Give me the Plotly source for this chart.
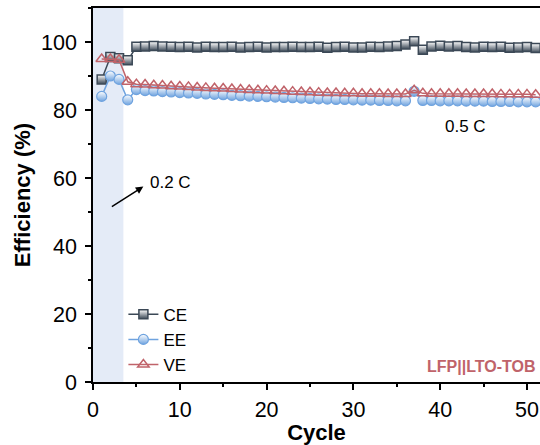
import plotly.graph_objects as go

cycles = list(range(1, 52))
CE = [89.0, 95.6, 95.2, 94.6, 98.6, 98.7, 98.8, 98.7, 98.6, 98.5, 98.6, 98.4, 98.6, 98.5,
      98.5, 98.6, 98.4, 98.5, 98.6, 98.4, 98.5, 98.5, 98.6, 98.5, 98.5, 98.6, 98.3, 98.5,
      98.6, 98.4, 98.4, 98.6, 98.5, 98.7, 98.8, 99.3, 100.2, 97.7, 98.7, 98.9, 98.7, 98.8,
      98.5, 98.4, 98.6, 98.5, 98.6, 98.3, 98.4, 98.5, 98.2]
EE = [84.0, 90.0, 89.0, 83.0, 86.0, 85.7, 85.6, 85.4, 85.3, 85.1, 85.0, 84.9, 84.7, 84.6,
      84.5, 84.3, 84.2, 84.1, 84.0, 83.9, 83.8, 83.7, 83.6, 83.5, 83.4, 83.3, 83.2, 83.1,
      83.1, 83.0, 82.9, 82.9, 82.8, 82.8, 82.7, 82.7, 85.5, 82.8, 82.8, 82.7, 82.7, 82.7,
      82.6, 82.6, 82.6, 82.5, 82.5, 82.5, 82.4, 82.4, 82.4]
VE = [95.0, 95.0, 94.8, 88.3, 87.6, 87.5, 87.3, 87.2, 87.0, 86.9, 86.8, 86.6, 86.5, 86.4,
      86.3, 86.2, 86.0, 85.9, 85.8, 85.7, 85.6, 85.5, 85.4, 85.3, 85.2, 85.1, 85.0, 85.0,
      84.9, 84.9, 84.8, 84.8, 84.8, 84.7, 84.7, 84.7, 85.8, 84.9, 84.8, 84.8, 84.8, 84.8,
      84.7, 84.7, 84.7, 84.7, 84.6, 84.6, 84.6, 84.6, 84.5]

C_CE = "#3b4856"
C_EE = "#6fa3df"
C_VE = "#c0636a"
FONT = "Liberation Sans, Arial, sans-serif"

fig = go.Figure()
fig.add_shape(type="rect", xref="x", yref="paper", x0=0, x1=3.5, y0=0, y1=1,
              fillcolor="#e4ebf7", line_width=0, layer="below")

fig.add_trace(go.Scatter(x=cycles, y=CE, name="CE", mode="lines+markers",
                         line=dict(color=C_CE, width=1.5),
                         marker=dict(symbol="square", size=9, color="white",
                                     gradient=dict(type="vertical", color=C_CE),
                                     line=dict(color=C_CE, width=1.5))))
fig.add_trace(go.Scatter(x=cycles, y=EE, name="EE", mode="lines+markers",
                         line=dict(color=C_EE, width=1.5),
                         marker=dict(symbol="circle", size=10, color="white",
                                     gradient=dict(type="vertical", color=C_EE),
                                     line=dict(color=C_EE, width=1.2))))
fig.add_trace(go.Scatter(x=cycles, y=VE, name="VE", mode="lines+markers",
                         line=dict(color=C_VE, width=1.5),
                         marker=dict(symbol="triangle-up-open", size=10, color=C_VE,
                                     line=dict(color=C_VE, width=1.5))))

fig.add_annotation(x=5.8, y=57.5, ax=2.0, ay=51.3, xref="x", yref="y", axref="x", ayref="y",
                   text="", showarrow=True, arrowhead=2, arrowsize=1, arrowwidth=1.5,
                   arrowcolor="black")
fig.add_annotation(x=6.3, y=58.8, xref="x", yref="y", text="0.2 C", showarrow=False,
                   xanchor="left", font=dict(family=FONT, size=17, color="black"))
fig.add_annotation(x=42.9, y=75.2, xref="x", yref="y", text="0.5 C", showarrow=False,
                   font=dict(family=FONT, size=17, color="black"))
fig.add_annotation(x=0.995, y=4.6, xref="paper", yref="y", text="<b>LFP||LTO-TOB</b>",
                   showarrow=False, xanchor="right",
                   font=dict(family=FONT, size=16, color=C_VE))

axis_common = dict(showline=True, linecolor="black", linewidth=1.5, mirror=True,
                   ticks="outside", ticklen=6, tickwidth=1.5, tickcolor="black",
                   showgrid=False, zeroline=False, automargin=False,
                   tickfont=dict(family=FONT, size=21.5, color="black"))

fig.update_xaxes(range=[0, 51.5], dtick=10, tick0=0, ticklabelstandoff=1,
                 minor=dict(ticks="outside", ticklen=3, tickwidth=1.5, dtick=5, tick0=0,
                            tickcolor="black"),
                 title=dict(text="<b>Cycle</b>", font=dict(family=FONT, size=22, color="black"),
                            standoff=0),
                 **axis_common)
fig.update_yaxes(range=[0, 110], dtick=20, tick0=0, ticklabelstandoff=4,
                 minor=dict(ticks="outside", ticklen=3, tickwidth=1.5, dtick=10, tick0=0,
                            tickcolor="black"),
                 title=dict(text="<b>Efficiency (%)</b>", font=dict(family=FONT, size=22, color="black"),
                            standoff=4),
                 **axis_common)

fig.update_layout(
    width=540, height=445,
    margin=dict(l=93, r=0, t=8, b=63),
    plot_bgcolor="white", paper_bgcolor="white",
    showlegend=True,
    legend=dict(x=0.068, y=0.228, xanchor="left", yanchor="top",
                bgcolor="rgba(0,0,0,0)", font=dict(family=FONT, size=17, color="black"),
                itemwidth=30, tracegroupgap=0),
)

fig.write_html("out.html", config={"displayModeBar": False},
               post_script="document.body.style.margin='0';document.body.style.overflow='hidden';")
